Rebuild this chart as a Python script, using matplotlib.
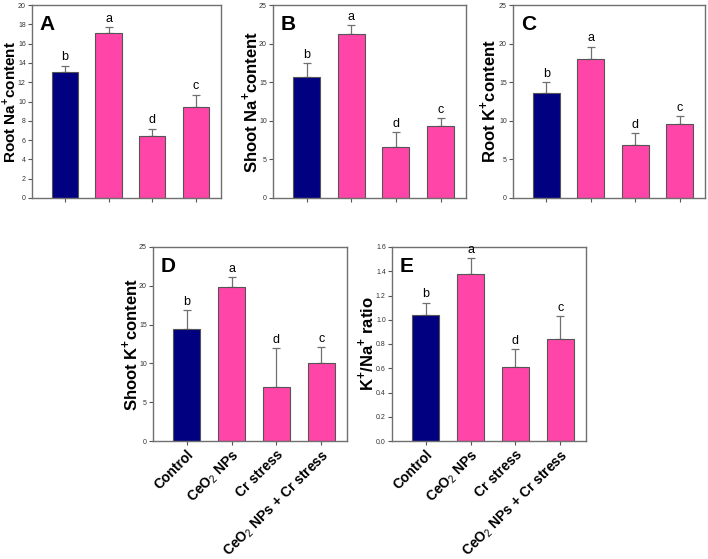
import matplotlib
matplotlib.use("Agg")
import matplotlib.pyplot as plt
import numpy as np

plt.rcParams['font.family'] = ['Liberation Sans', 'DejaVu Sans']
plt.rcParams['mathtext.fontset'] = 'custom'
plt.rcParams['mathtext.rm'] = 'Liberation Sans'
plt.rcParams['mathtext.bf'] = 'Liberation Sans:bold'

categories = ["Control", "CeO$_2$ NPs", "Cr stress", "CeO$_2$ NPs + Cr stress"]

root_na = [13.1, 17.1, 6.4, 9.4]
root_na_err = [0.6, 0.6, 0.8, 1.3]
shoot_na = [15.7, 21.3, 6.6, 9.3]
shoot_na_err = [1.8, 1.1, 1.9, 1.0]
root_k = [13.6, 18.0, 6.9, 9.6]
root_k_err = [1.4, 1.6, 1.5, 1.0]
shoot_k = [14.4, 19.8, 6.9, 10.1]
shoot_k_err = [2.5, 1.3, 5.1, 2.0]
ratio_kna = [1.04, 1.38, 0.61, 0.84]
ratio_kna_err = [0.10, 0.13, 0.15, 0.19]
letters = ["b", "a", "d", "c"]

panels = [
    ("A", root_na, root_na_err, "Root Na$^{\\mathbf{+}}$content", 20, 2, "%d", [32, 5, 221, 198], False, 22.5, 11),
    ("B", shoot_na, shoot_na_err, "Shoot Na$^{\\mathbf{+}}$content", 25, 5, "%d", [273, 5, 466, 198], False, 23, 12),
    ("C", root_k, root_k_err, "Root K$^{\\mathbf{+}}$content", 25, 5, "%d", [513, 5, 705, 198], False, 25, 12),
    ("D", shoot_k, shoot_k_err, "Shoot K$^{\\mathbf{+}}$content", 25, 5, "%d", [153, 247, 347, 441], True, 23, 12),
    ("E", ratio_kna, ratio_kna_err, "K$^{\\mathbf{+}}$/Na$^{\\mathbf{+}}$ ratio", 1.6, 0.2, "%.1f", [392, 247, 586, 441], True, 26, 12),
]

colors = ["#000080", "#FF46A8", "#FF46A8", "#FF46A8"]
W, H = 708, 559
fig = plt.figure(figsize=(W / 100, H / 100), dpi=100)

for name, vals, errs, ylabel, ymax, step, fmt, box, show_x, lab_off, lab_fs in panels:
    x0, y0, x1, y1 = box
    ax = fig.add_axes([x0 / W, 1 - y1 / H, (x1 - x0) / W, (y1 - y0) / H])
    x = np.arange(len(vals))
    ax.bar(x, vals, width=0.6, color=colors, edgecolor="#555555", linewidth=0.8, zorder=2)
    ax.errorbar(x, vals, yerr=[np.zeros(len(vals)), errs], fmt="none",
                ecolor="#707070", elinewidth=0.9, capsize=3, capthick=0.9, zorder=1)
    for xi, v, e, l in zip(x, vals, errs, letters):
        ax.text(xi, v + e + ymax * 0.012, l, ha="center", va="bottom", fontsize=9)
    ax.set_xlim(-0.75, 3.57)
    ax.set_ylim(0, ymax)
    ticks = np.arange(0, ymax + step / 2, step)
    ax.set_yticks(ticks)
    ax.set_yticklabels([fmt % t for t in ticks], fontsize=5, color="#333333")
    ax.set_xticks(x)
    if show_x:
        ax.set_xticklabels(categories, rotation=45, ha="right", rotation_mode="anchor",
                           fontsize=10, fontweight="bold")
    else:
        ax.set_xticklabels([])
    ax.tick_params(axis="both", direction="out", length=3, width=0.8, color="#555555", pad=1.5)
    for s in ax.spines.values():
        s.set_color("#707070")
        s.set_linewidth(1.0)
    ax.set_ylabel(ylabel, fontsize=lab_fs, fontweight="bold", va="center")
    ax.yaxis.set_label_coords(-lab_off / (x1 - x0), 0.5)
    ax.text(0.04, 0.95, name, transform=ax.transAxes, fontsize=15, fontweight="bold",
            ha="left", va="top")

fig.savefig("out.png", dpi=100)
